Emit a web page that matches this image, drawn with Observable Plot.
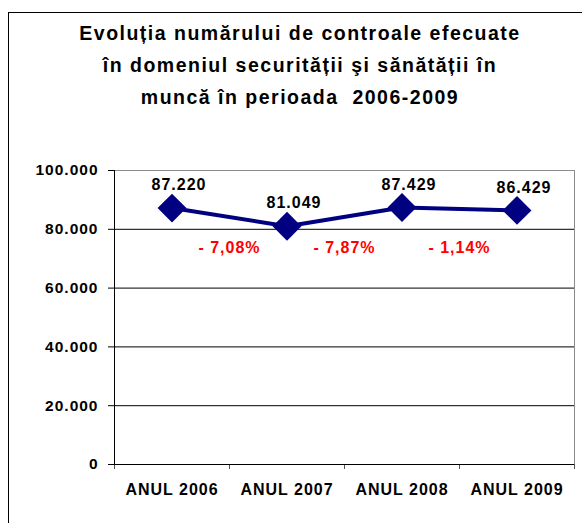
<!DOCTYPE html>
<html><head><meta charset="utf-8">
<script src="https://cdn.jsdelivr.net/npm/d3@7"></script>
<script src="https://cdn.jsdelivr.net/npm/@observablehq/plot@0.6"></script>
<style>
body{margin:0;background:#fff;overflow:hidden;width:582px;height:523px;position:relative;font-family:"Liberation Sans",Arial,sans-serif;}
#frame{position:absolute;left:8px;top:12px;width:600px;height:600px;border:1px solid #000;box-sizing:border-box;}
#title{position:absolute;left:8px;top:17px;width:584px;text-align:center;font-weight:bold;font-size:19.5px;letter-spacing:1.5px;line-height:32px;color:#000;}
#chart{position:absolute;left:0;top:0;}
#chart svg g[aria-label="y-axis tick label"]{font-weight:bold;font-size:15.5px;fill:#000;}
#chart svg g[aria-label="x-axis tick label"]{font-weight:bold;font-size:16px;fill:#000;}
</style></head><body>
<div id="frame"></div>
<div id="chart"></div>
<div id="title">Evoluția numărului de controale efecuate<br>în domeniul securității şi sănătății în<br>muncă în perioada&nbsp; 2006-2009</div>
<script>
const years = ["ANUL 2006", "ANUL 2007", "ANUL 2008", "ANUL 2009"];
const controls = [87220, 81049, 87429, 86429];
const valueLabels = ["87.220", "81.049", "87.429", "86.429"];
const changeLabels = ["- 7,08%", "- 7,87%", "- 1,14%"];
const yTicks = [0, 20000, 40000, 60000, 80000, 100000];

const fmt = d3.formatLocale({decimal: ",", thousands: ".", grouping: [3], currency: ["", ""]}).format(",");
const idx = years.map((_, i) => i);
const pts = years.map((y, i) => ({i, v: controls[i], label: valueLabels[i]}));
const changes = changeLabels.map((t, i) => ({i: i + 0.5, t}));
const bounds = [-0.5, 0.5, 1.5, 2.5, 3.5];
const font = "'Liberation Sans', Arial, sans-serif";

const chart = Plot.plot({
  width: 582, height: 523,
  marginTop: 170, marginBottom: 59, marginLeft: 114, marginRight: 8,
  style: {fontFamily: font, background: "transparent", color: "#000", letterSpacing: "1px"},
  x: {type: "linear", domain: [-0.5, 3.5], axis: null},
  y: {domain: [0, 100000], axis: null},
  marks: [
    Plot.ruleY(yTicks.filter(d => d > 0 && d < 100000), {stroke: "#000", strokeWidth: 1}),
    Plot.ruleY([100000], {stroke: "#8c8c8c"}),
    Plot.ruleX([3.5], {stroke: "#8c8c8c"}),
    Plot.axisY(yTicks, {label: null, tickFormat: fmt, tickSize: 6, tickPadding: 10, fontSize: 15.5, fontWeight: "bold", color: "#000"}),
    Plot.axisX(bounds, {label: null, tickSize: 5, tickFormat: () => "", color: "#555"}),
    Plot.axisX(idx, {label: null, tickSize: 0, tickPadding: 19, tickFormat: i => years[i], fontSize: 16, fontWeight: "bold", color: "#000"}),
    Plot.ruleX([-0.5], {stroke: "#000"}),
    Plot.ruleY([0], {stroke: "#000"}),
    Plot.line(pts, {x: "i", y: "v", stroke: "#000080", strokeWidth: 4}),
    Plot.dot(pts, {x: "i", y: "v", symbol: "diamond2", r: 13, fill: "#000080", stroke: "none"}),
    Plot.text(pts, {x: "i", y: "v", text: "label", dx: 7, dy: -23, fontSize: 16, fontWeight: "bold", fill: "#000"}),
    Plot.text(changes, {x: "i", y: () => 80000, text: "t", dx: 0, dy: 19, fontSize: 16, fontWeight: "bold", fill: "#ff0000"})
  ]
});
document.getElementById("chart").appendChild(chart);
</script>
</body></html>
